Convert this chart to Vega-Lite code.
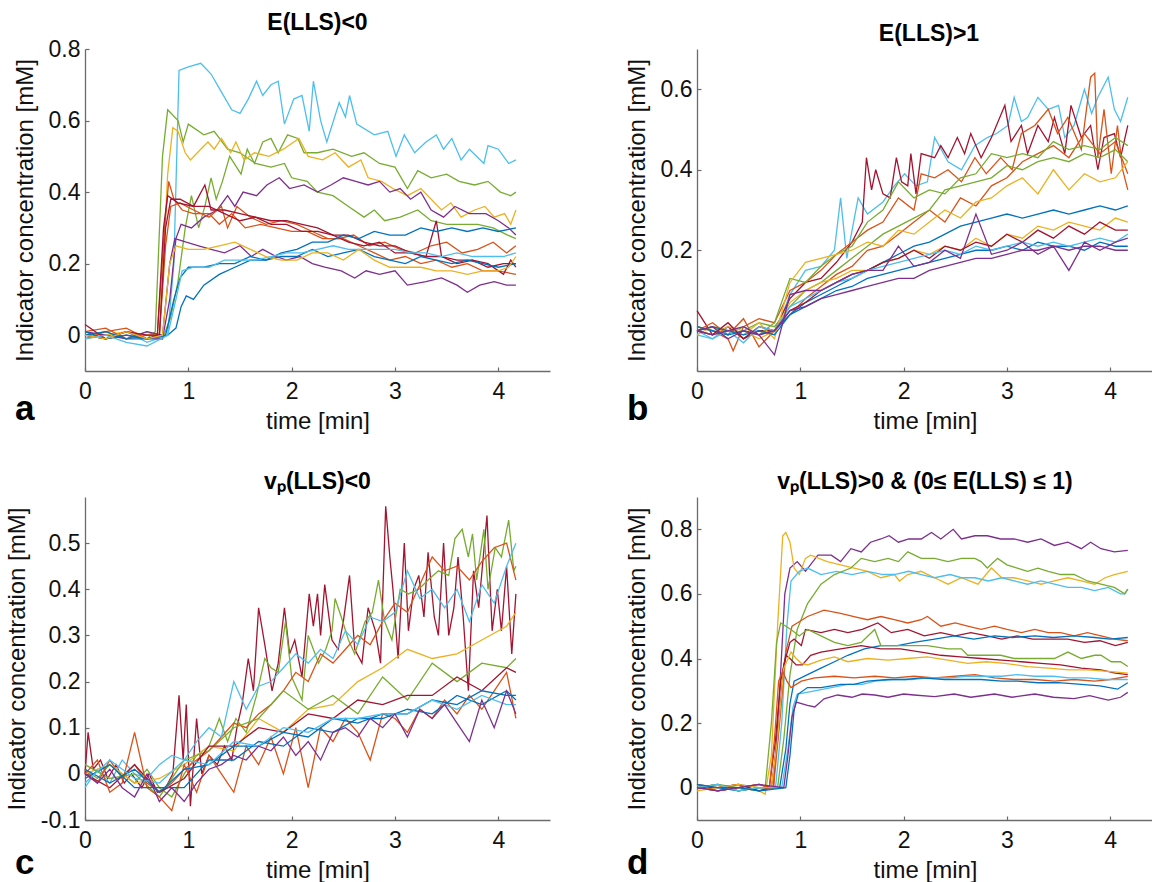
{
"$schema":"https://vega.github.io/schema/vega-lite/v6.json",
"background":"white",
"padding":{"left":5,"top":12,"right":0,"bottom":0},
"config":{
 "font":"Liberation Sans",
 "view":{"stroke":null},
 "axis":{"grid":false,"domainColor":"#6b6b6b","domainWidth":1.3,"tickColor":"#6b6b6b","tickWidth":1.2,"tickSize":-4,"labelFont":"Liberation Sans","labelFontSize":23,"labelColor":"#111111","titleFont":"Liberation Sans","titleFontSize":24,"titleFontWeight":"normal","titleColor":"#111111","labelFlush":false},
 "axisX":{"labelPadding":13,"titlePadding":6},
 "axisY":{"labelPadding":9,"titlePadding":11},
 "title":{"font":"Liberation Sans","fontSize":23,"fontWeight":"bold","color":"#000000","offset":3,"baseline":"alphabetic","frame":"group","anchor":"middle"}
},
"columns":2,
"spacing":{"row":126,"column":147},
"bounds":"flush",
"resolve":{"scale":{"color":"independent","x":"independent","y":"independent"}},
"concat":[
 {"width":465,"height":322,"title":{"text":"E(LLS)<0"},
  "encoding":{
   "x":{"field":"t","type":"quantitative","title":"time [min]","scale":{"domain":[0,4.5],"nice":false,"zero":false},"axis":{"values":[0,1,2,3,4],"format":"d"}},
   "y":{"field":"c","type":"quantitative","title":"Indicator concentration [mM]","scale":{"domain":[-0.1,0.8],"nice":false,"zero":false},"axis":{"values":[0,0.2,0.4,0.6,0.8],"labelExpr":"datum.value < 0 ? '-' + format(-datum.value, '.1~f') : format(datum.value, '.1~f')"}}
  },
  "layer":[
   {"data":{"name":"a"},"mark":{"type":"line","strokeWidth":1.3},"encoding":{"color":{"field":"s","type":"nominal","legend":null,"scale":{"domain":[1,2,3,4,5,6,7,8,9,10,11,12,13,14],"range":["#4DBEEE","#77AC30","#77AC30","#EDB120","#7E2F8E","#7E2F8E","#D95319","#D95319","#A2142F","#A2142F","#0072BD","#0072BD","#4DBEEE","#EDB120"]}}}},
   {"data":{"values":[{"t":-0.677,"c":-0.257,"lab":"a"}]},"mark":{"type":"text","align":"left","baseline":"bottom","fontSize":35,"fontWeight":"bold","color":"#000000","font":"Liberation Sans"},"encoding":{"text":{"field":"lab"}}}
  ]},
 {"width":456,"height":322,"title":{"text":"E(LLS)>1","dx":4},
  "encoding":{
   "x":{"field":"t","type":"quantitative","title":"time [min]","scale":{"domain":[0,4.414],"nice":false,"zero":false},"axis":{"values":[0,1,2,3,4],"format":"d"}},
   "y":{"field":"c","type":"quantitative","title":"Indicator concentration [mM]","scale":{"domain":[-0.1,0.7],"nice":false,"zero":false},"axis":{"values":[0,0.2,0.4,0.6],"labelExpr":"datum.value < 0 ? '-' + format(-datum.value, '.1~f') : format(datum.value, '.1~f')"}}
  },
  "layer":[
   {"data":{"name":"b"},"mark":{"type":"line","strokeWidth":1.3},"encoding":{"color":{"field":"s","type":"nominal","legend":null,"scale":{"domain":[1,2,3,4,5,6,7,8,9,10,11,12,13,14],"range":["#4DBEEE","#A2142F","#D95319","#D95319","#77AC30","#77AC30","#EDB120","#EDB120","#0072BD","#0072BD","#A2142F","#4DBEEE","#7E2F8E","#7E2F8E"]}}}},
   {"data":{"values":[{"t":-0.678,"c":-0.24,"lab":"b"}]},"mark":{"type":"text","align":"left","baseline":"bottom","fontSize":35,"fontWeight":"bold","color":"#000000","font":"Liberation Sans"},"encoding":{"text":{"field":"lab"}}}
  ]},
 {"width":465,"height":323,"title":{"text":"vₚ(LLS)<0"},
  "encoding":{
   "x":{"field":"t","type":"quantitative","title":"time [min]","scale":{"domain":[0,4.5],"nice":false,"zero":false},"axis":{"values":[0,1,2,3,4],"format":"d"}},
   "y":{"field":"c","type":"quantitative","title":"Indicator concentration [mM]","scale":{"domain":[-0.1,0.6],"nice":false,"zero":false},"axis":{"values":[-0.1,0,0.1,0.2,0.3,0.4,0.5],"labelExpr":"datum.value < 0 ? '-' + format(-datum.value, '.1~f') : format(datum.value, '.1~f')"}}
  },
  "layer":[
   {"data":{"name":"c"},"mark":{"type":"line","strokeWidth":1.3},"encoding":{"color":{"field":"s","type":"nominal","legend":null,"scale":{"domain":[1,2,3,4,5,6,7,8,9,10,11,12],"range":["#A2142F","#77AC30","#D95319","#4DBEEE","#EDB120","#77AC30","#A2142F","#D95319","#0072BD","#0072BD","#4DBEEE","#7E2F8E"]}}}},
   {"data":{"values":[{"t":-0.677,"c":-0.2317,"lab":"c"}]},"mark":{"type":"text","align":"left","baseline":"bottom","fontSize":35,"fontWeight":"bold","color":"#000000","font":"Liberation Sans"},"encoding":{"text":{"field":"lab"}}}
  ]},
 {"width":456,"height":323,"title":{"text":"vₚ(LLS)>0 & (0≤ E(LLS) ≤ 1)"},
  "encoding":{
   "x":{"field":"t","type":"quantitative","title":"time [min]","scale":{"domain":[0,4.414],"nice":false,"zero":false},"axis":{"values":[0,1,2,3,4],"format":"d"}},
   "y":{"field":"c","type":"quantitative","title":"Indicator concentration [mM]","scale":{"domain":[-0.1,0.9],"nice":false,"zero":false},"axis":{"values":[0,0.2,0.4,0.6,0.8],"labelExpr":"datum.value < 0 ? '-' + format(-datum.value, '.1~f') : format(datum.value, '.1~f')"}}
  },
  "layer":[
   {"data":{"name":"d"},"mark":{"type":"line","strokeWidth":1.3},"encoding":{"color":{"field":"s","type":"nominal","legend":null,"scale":{"domain":[1,2,3,4,5,6,7,8,9,10,11,12,13,14],"range":["#7E2F8E","#EDB120","#4DBEEE","#77AC30","#D95319","#A2142F","#0072BD","#77AC30","#A2142F","#EDB120","#D95319","#4DBEEE","#0072BD","#7E2F8E"]}}}},
   {"data":{"values":[{"t":-0.678,"c":-0.288,"lab":"d"}]},"mark":{"type":"text","align":"left","baseline":"bottom","fontSize":35,"fontWeight":"bold","color":"#000000","font":"Liberation Sans"},"encoding":{"text":{"field":"lab"}}}
  ]}
],
"datasets":{
"a":[
{"s":1,"t":0,"c":0},{"s":1,"t":0.2,"c":-0.01},{"s":1,"t":0.4,"c":0.01},{"s":1,"t":0.6,"c":-0.02},{"s":1,"t":0.8,"c":0},{"s":1,"t":0.86,"c":0.2},{"s":1,"t":0.91,"c":0.74},{"s":1,"t":1,"c":0.75},{"s":1,"t":1.12,"c":0.76},{"s":1,"t":1.22,"c":0.73},{"s":1,"t":1.3,"c":0.69},{"s":1,"t":1.42,"c":0.63},{"s":1,"t":1.5,"c":0.62},{"s":1,"t":1.58,"c":0.66},{"s":1,"t":1.66,"c":0.71},{"s":1,"t":1.72,"c":0.67},{"s":1,"t":1.8,"c":0.7},{"s":1,"t":1.87,"c":0.71},{"s":1,"t":1.93,"c":0.59},{"s":1,"t":2.02,"c":0.66},{"s":1,"t":2.1,"c":0.67},{"s":1,"t":2.17,"c":0.57},{"s":1,"t":2.21,"c":0.71},{"s":1,"t":2.28,"c":0.6},{"s":1,"t":2.34,"c":0.54},{"s":1,"t":2.46,"c":0.65},{"s":1,"t":2.52,"c":0.61},{"s":1,"t":2.56,"c":0.67},{"s":1,"t":2.63,"c":0.59},{"s":1,"t":2.8,"c":0.56},{"s":1,"t":2.93,"c":0.57},{"s":1,"t":3.01,"c":0.5},{"s":1,"t":3.09,"c":0.56},{"s":1,"t":3.19,"c":0.51},{"s":1,"t":3.3,"c":0.54},{"s":1,"t":3.4,"c":0.56},{"s":1,"t":3.47,"c":0.52},{"s":1,"t":3.55,"c":0.55},{"s":1,"t":3.64,"c":0.49},{"s":1,"t":3.72,"c":0.52},{"s":1,"t":3.86,"c":0.48},{"s":1,"t":3.9,"c":0.53},{"s":1,"t":4,"c":0.52},{"s":1,"t":4.1,"c":0.48},{"s":1,"t":4.17,"c":0.49},
{"s":2,"t":0,"c":0.01},{"s":2,"t":0.2,"c":-0.01},{"s":2,"t":0.4,"c":0.01},{"s":2,"t":0.6,"c":-0.01},{"s":2,"t":0.68,"c":0.01},{"s":2,"t":0.75,"c":0.5},{"s":2,"t":0.8,"c":0.63},{"s":2,"t":0.9,"c":0.6},{"s":2,"t":0.95,"c":0.54},{"s":2,"t":1,"c":0.59},{"s":2,"t":1.15,"c":0.56},{"s":2,"t":1.25,"c":0.57},{"s":2,"t":1.38,"c":0.52},{"s":2,"t":1.5,"c":0.51},{"s":2,"t":1.65,"c":0.48},{"s":2,"t":1.8,"c":0.47},{"s":2,"t":1.93,"c":0.48},{"s":2,"t":2,"c":0.44},{"s":2,"t":2.15,"c":0.43},{"s":2,"t":2.25,"c":0.4},{"s":2,"t":2.4,"c":0.39},{"s":2,"t":2.55,"c":0.36},{"s":2,"t":2.7,"c":0.33},{"s":2,"t":2.8,"c":0.35},{"s":2,"t":2.9,"c":0.32},{"s":2,"t":3.05,"c":0.33},{"s":2,"t":3.22,"c":0.35},{"s":2,"t":3.35,"c":0.32},{"s":2,"t":3.5,"c":0.31},{"s":2,"t":3.65,"c":0.31},{"s":2,"t":3.8,"c":0.31},{"s":2,"t":3.95,"c":0.3},{"s":2,"t":4.09,"c":0.28},{"s":2,"t":4.17,"c":0.27},
{"s":3,"t":0,"c":0},{"s":3,"t":0.2,"c":0.01},{"s":3,"t":0.4,"c":-0.01},{"s":3,"t":0.6,"c":0.01},{"s":3,"t":0.75,"c":-0.01},{"s":3,"t":0.83,"c":0.05},{"s":3,"t":0.9,"c":0.15},{"s":3,"t":0.97,"c":0.3},{"s":3,"t":1.03,"c":0.39},{"s":3,"t":1.1,"c":0.3},{"s":3,"t":1.16,"c":0.36},{"s":3,"t":1.22,"c":0.44},{"s":3,"t":1.27,"c":0.38},{"s":3,"t":1.33,"c":0.43},{"s":3,"t":1.4,"c":0.5},{"s":3,"t":1.51,"c":0.45},{"s":3,"t":1.57,"c":0.52},{"s":3,"t":1.64,"c":0.48},{"s":3,"t":1.72,"c":0.54},{"s":3,"t":1.8,"c":0.55},{"s":3,"t":1.87,"c":0.51},{"s":3,"t":1.96,"c":0.56},{"s":3,"t":2.06,"c":0.55},{"s":3,"t":2.12,"c":0.51},{"s":3,"t":2.25,"c":0.51},{"s":3,"t":2.4,"c":0.52},{"s":3,"t":2.58,"c":0.5},{"s":3,"t":2.7,"c":0.51},{"s":3,"t":2.85,"c":0.48},{"s":3,"t":3,"c":0.47},{"s":3,"t":3.12,"c":0.41},{"s":3,"t":3.22,"c":0.46},{"s":3,"t":3.35,"c":0.44},{"s":3,"t":3.5,"c":0.45},{"s":3,"t":3.62,"c":0.43},{"s":3,"t":3.77,"c":0.42},{"s":3,"t":3.9,"c":0.43},{"s":3,"t":4.02,"c":0.4},{"s":3,"t":4.12,"c":0.39},{"s":3,"t":4.17,"c":0.4},
{"s":4,"t":0,"c":-0.01},{"s":4,"t":0.2,"c":0},{"s":4,"t":0.4,"c":0.01},{"s":4,"t":0.6,"c":0},{"s":4,"t":0.72,"c":0},{"s":4,"t":0.8,"c":0.45},{"s":4,"t":0.85,"c":0.58},{"s":4,"t":0.9,"c":0.57},{"s":4,"t":0.97,"c":0.51},{"s":4,"t":1.02,"c":0.49},{"s":4,"t":1.12,"c":0.52},{"s":4,"t":1.19,"c":0.54},{"s":4,"t":1.25,"c":0.52},{"s":4,"t":1.32,"c":0.55},{"s":4,"t":1.41,"c":0.51},{"s":4,"t":1.46,"c":0.54},{"s":4,"t":1.54,"c":0.49},{"s":4,"t":1.64,"c":0.51},{"s":4,"t":1.78,"c":0.5},{"s":4,"t":1.92,"c":0.52},{"s":4,"t":2.07,"c":0.55},{"s":4,"t":2.16,"c":0.5},{"s":4,"t":2.3,"c":0.49},{"s":4,"t":2.42,"c":0.51},{"s":4,"t":2.55,"c":0.47},{"s":4,"t":2.67,"c":0.49},{"s":4,"t":2.74,"c":0.44},{"s":4,"t":2.87,"c":0.43},{"s":4,"t":2.98,"c":0.41},{"s":4,"t":3.12,"c":0.39},{"s":4,"t":3.25,"c":0.41},{"s":4,"t":3.35,"c":0.38},{"s":4,"t":3.45,"c":0.35},{"s":4,"t":3.54,"c":0.37},{"s":4,"t":3.64,"c":0.33},{"s":4,"t":3.77,"c":0.35},{"s":4,"t":3.87,"c":0.36},{"s":4,"t":3.96,"c":0.33},{"s":4,"t":4.06,"c":0.34},{"s":4,"t":4.12,"c":0.31},{"s":4,"t":4.17,"c":0.35},
{"s":5,"t":0,"c":0},{"s":5,"t":0.2,"c":-0.01},{"s":5,"t":0.4,"c":0.01},{"s":5,"t":0.6,"c":-0.01},{"s":5,"t":0.75,"c":-0.01},{"s":5,"t":0.82,"c":0.1},{"s":5,"t":0.88,"c":0.27},{"s":5,"t":0.93,"c":0.31},{"s":5,"t":1.03,"c":0.3},{"s":5,"t":1.15,"c":0.33},{"s":5,"t":1.28,"c":0.35},{"s":5,"t":1.38,"c":0.39},{"s":5,"t":1.45,"c":0.36},{"s":5,"t":1.53,"c":0.4},{"s":5,"t":1.66,"c":0.39},{"s":5,"t":1.76,"c":0.42},{"s":5,"t":1.88,"c":0.44},{"s":5,"t":1.98,"c":0.41},{"s":5,"t":2.12,"c":0.42},{"s":5,"t":2.25,"c":0.4},{"s":5,"t":2.38,"c":0.42},{"s":5,"t":2.5,"c":0.44},{"s":5,"t":2.62,"c":0.43},{"s":5,"t":2.74,"c":0.42},{"s":5,"t":2.85,"c":0.43},{"s":5,"t":2.95,"c":0.4},{"s":5,"t":3.05,"c":0.41},{"s":5,"t":3.15,"c":0.38},{"s":5,"t":3.25,"c":0.4},{"s":5,"t":3.35,"c":0.35},{"s":5,"t":3.47,"c":0.33},{"s":5,"t":3.58,"c":0.36},{"s":5,"t":3.72,"c":0.34},{"s":5,"t":3.88,"c":0.34},{"s":5,"t":4,"c":0.32},{"s":5,"t":4.1,"c":0.3},{"s":5,"t":4.17,"c":0.28},
{"s":6,"t":0,"c":0.01},{"s":6,"t":0.2,"c":0},{"s":6,"t":0.4,"c":-0.01},{"s":6,"t":0.6,"c":0.01},{"s":6,"t":0.75,"c":0},{"s":6,"t":0.82,"c":0.2},{"s":6,"t":0.87,"c":0.27},{"s":6,"t":0.98,"c":0.26},{"s":6,"t":1.1,"c":0.25},{"s":6,"t":1.22,"c":0.24},{"s":6,"t":1.35,"c":0.23},{"s":6,"t":1.5,"c":0.25},{"s":6,"t":1.61,"c":0.22},{"s":6,"t":1.72,"c":0.24},{"s":6,"t":1.85,"c":0.22},{"s":6,"t":1.95,"c":0.21},{"s":6,"t":2.08,"c":0.22},{"s":6,"t":2.2,"c":0.2},{"s":6,"t":2.32,"c":0.19},{"s":6,"t":2.48,"c":0.18},{"s":6,"t":2.61,"c":0.16},{"s":6,"t":2.72,"c":0.18},{"s":6,"t":2.85,"c":0.17},{"s":6,"t":3,"c":0.18},{"s":6,"t":3.12,"c":0.14},{"s":6,"t":3.3,"c":0.15},{"s":6,"t":3.45,"c":0.16},{"s":6,"t":3.6,"c":0.14},{"s":6,"t":3.7,"c":0.12},{"s":6,"t":3.82,"c":0.14},{"s":6,"t":3.96,"c":0.15},{"s":6,"t":4.08,"c":0.14},{"s":6,"t":4.17,"c":0.14},
{"s":7,"t":0,"c":0.01},{"s":7,"t":0.2,"c":0.02},{"s":7,"t":0.4,"c":-0.01},{"s":7,"t":0.6,"c":0},{"s":7,"t":0.7,"c":0},{"s":7,"t":0.77,"c":0.3},{"s":7,"t":0.81,"c":0.43},{"s":7,"t":0.86,"c":0.38},{"s":7,"t":0.94,"c":0.35},{"s":7,"t":1.05,"c":0.34},{"s":7,"t":1.2,"c":0.34},{"s":7,"t":1.3,"c":0.31},{"s":7,"t":1.42,"c":0.34},{"s":7,"t":1.55,"c":0.3},{"s":7,"t":1.7,"c":0.31},{"s":7,"t":1.85,"c":0.3},{"s":7,"t":2,"c":0.29},{"s":7,"t":2.15,"c":0.29},{"s":7,"t":2.3,"c":0.27},{"s":7,"t":2.45,"c":0.27},{"s":7,"t":2.6,"c":0.28},{"s":7,"t":2.75,"c":0.25},{"s":7,"t":2.9,"c":0.26},{"s":7,"t":3.05,"c":0.24},{"s":7,"t":3.2,"c":0.23},{"s":7,"t":3.35,"c":0.25},{"s":7,"t":3.5,"c":0.26},{"s":7,"t":3.65,"c":0.23},{"s":7,"t":3.8,"c":0.24},{"s":7,"t":3.95,"c":0.26},{"s":7,"t":4.08,"c":0.23},{"s":7,"t":4.17,"c":0.25},
{"s":8,"t":0,"c":-0.01},{"s":8,"t":0.2,"c":0.01},{"s":8,"t":0.4,"c":0.02},{"s":8,"t":0.6,"c":-0.01},{"s":8,"t":0.72,"c":0},{"s":8,"t":0.78,"c":0.25},{"s":8,"t":0.83,"c":0.36},{"s":8,"t":0.92,"c":0.37},{"s":8,"t":1.05,"c":0.35},{"s":8,"t":1.2,"c":0.33},{"s":8,"t":1.32,"c":0.36},{"s":8,"t":1.38,"c":0.3},{"s":8,"t":1.47,"c":0.36},{"s":8,"t":1.6,"c":0.33},{"s":8,"t":1.75,"c":0.31},{"s":8,"t":1.9,"c":0.32},{"s":8,"t":2.05,"c":0.31},{"s":8,"t":2.2,"c":0.29},{"s":8,"t":2.35,"c":0.27},{"s":8,"t":2.5,"c":0.27},{"s":8,"t":2.65,"c":0.25},{"s":8,"t":2.8,"c":0.23},{"s":8,"t":2.95,"c":0.21},{"s":8,"t":3.1,"c":0.22},{"s":8,"t":3.25,"c":0.2},{"s":8,"t":3.4,"c":0.21},{"s":8,"t":3.55,"c":0.19},{"s":8,"t":3.7,"c":0.2},{"s":8,"t":3.85,"c":0.18},{"s":8,"t":4,"c":0.18},{"s":8,"t":4.17,"c":0.17},
{"s":9,"t":0,"c":0.03},{"s":9,"t":0.2,"c":-0.01},{"s":9,"t":0.4,"c":0},{"s":9,"t":0.6,"c":-0.01},{"s":9,"t":0.7,"c":0},{"s":9,"t":0.76,"c":0.3},{"s":9,"t":0.8,"c":0.39},{"s":9,"t":0.9,"c":0.37},{"s":9,"t":1.05,"c":0.36},{"s":9,"t":1.16,"c":0.42},{"s":9,"t":1.22,"c":0.35},{"s":9,"t":1.35,"c":0.35},{"s":9,"t":1.5,"c":0.34},{"s":9,"t":1.65,"c":0.33},{"s":9,"t":1.8,"c":0.32},{"s":9,"t":1.95,"c":0.32},{"s":9,"t":2.1,"c":0.31},{"s":9,"t":2.25,"c":0.3},{"s":9,"t":2.4,"c":0.28},{"s":9,"t":2.55,"c":0.28},{"s":9,"t":2.7,"c":0.26},{"s":9,"t":2.85,"c":0.25},{"s":9,"t":3,"c":0.25},{"s":9,"t":3.15,"c":0.23},{"s":9,"t":3.3,"c":0.22},{"s":9,"t":3.4,"c":0.32},{"s":9,"t":3.45,"c":0.22},{"s":9,"t":3.6,"c":0.21},{"s":9,"t":3.75,"c":0.21},{"s":9,"t":3.9,"c":0.2},{"s":9,"t":4.05,"c":0.17},{"s":9,"t":4.12,"c":0.21},{"s":9,"t":4.17,"c":0.19},
{"s":10,"t":0,"c":0},{"s":10,"t":0.2,"c":-0.01},{"s":10,"t":0.4,"c":0.01},{"s":10,"t":0.6,"c":0},{"s":10,"t":0.72,"c":0},{"s":10,"t":0.78,"c":0.3},{"s":10,"t":0.83,"c":0.38},{"s":10,"t":0.92,"c":0.38},{"s":10,"t":1.05,"c":0.36},{"s":10,"t":1.2,"c":0.36},{"s":10,"t":1.35,"c":0.34},{"s":10,"t":1.5,"c":0.32},{"s":10,"t":1.65,"c":0.33},{"s":10,"t":1.8,"c":0.31},{"s":10,"t":1.95,"c":0.31},{"s":10,"t":2.1,"c":0.29},{"s":10,"t":2.25,"c":0.29},{"s":10,"t":2.4,"c":0.28},{"s":10,"t":2.55,"c":0.26},{"s":10,"t":2.7,"c":0.25},{"s":10,"t":2.85,"c":0.26},{"s":10,"t":3,"c":0.23},{"s":10,"t":3.15,"c":0.23},{"s":10,"t":3.3,"c":0.22},{"s":10,"t":3.45,"c":0.22},{"s":10,"t":3.6,"c":0.2},{"s":10,"t":3.75,"c":0.21},{"s":10,"t":3.9,"c":0.19},{"s":10,"t":4.05,"c":0.2},{"s":10,"t":4.17,"c":0.2},
{"s":11,"t":0,"c":0},{"s":11,"t":0.2,"c":0.01},{"s":11,"t":0.4,"c":-0.01},{"s":11,"t":0.6,"c":-0.01},{"s":11,"t":0.8,"c":0},{"s":11,"t":0.88,"c":0.02},{"s":11,"t":0.93,"c":0.08},{"s":11,"t":0.98,"c":0.11},{"s":11,"t":1.05,"c":0.1},{"s":11,"t":1.15,"c":0.14},{"s":11,"t":1.3,"c":0.17},{"s":11,"t":1.45,"c":0.19},{"s":11,"t":1.6,"c":0.21},{"s":11,"t":1.75,"c":0.21},{"s":11,"t":1.9,"c":0.22},{"s":11,"t":2.05,"c":0.22},{"s":11,"t":2.2,"c":0.24},{"s":11,"t":2.35,"c":0.22},{"s":11,"t":2.5,"c":0.23},{"s":11,"t":2.65,"c":0.24},{"s":11,"t":2.8,"c":0.22},{"s":11,"t":2.95,"c":0.21},{"s":11,"t":3.1,"c":0.2},{"s":11,"t":3.25,"c":0.22},{"s":11,"t":3.4,"c":0.21},{"s":11,"t":3.55,"c":0.2},{"s":11,"t":3.7,"c":0.21},{"s":11,"t":3.85,"c":0.2},{"s":11,"t":4,"c":0.19},{"s":11,"t":4.17,"c":0.2},
{"s":12,"t":0,"c":0.01},{"s":12,"t":0.2,"c":-0.01},{"s":12,"t":0.4,"c":0},{"s":12,"t":0.6,"c":-0.01},{"s":12,"t":0.78,"c":0},{"s":12,"t":0.86,"c":0.1},{"s":12,"t":0.92,"c":0.16},{"s":12,"t":1,"c":0.19},{"s":12,"t":1.15,"c":0.19},{"s":12,"t":1.3,"c":0.2},{"s":12,"t":1.45,"c":0.2},{"s":12,"t":1.6,"c":0.22},{"s":12,"t":1.75,"c":0.21},{"s":12,"t":1.9,"c":0.23},{"s":12,"t":2.05,"c":0.24},{"s":12,"t":2.2,"c":0.26},{"s":12,"t":2.35,"c":0.26},{"s":12,"t":2.5,"c":0.28},{"s":12,"t":2.65,"c":0.27},{"s":12,"t":2.8,"c":0.29},{"s":12,"t":2.95,"c":0.28},{"s":12,"t":3.1,"c":0.28},{"s":12,"t":3.25,"c":0.3},{"s":12,"t":3.4,"c":0.29},{"s":12,"t":3.55,"c":0.3},{"s":12,"t":3.7,"c":0.29},{"s":12,"t":3.85,"c":0.3},{"s":12,"t":4,"c":0.29},{"s":12,"t":4.17,"c":0.3},
{"s":13,"t":0,"c":-0.01},{"s":13,"t":0.2,"c":0},{"s":13,"t":0.4,"c":-0.02},{"s":13,"t":0.6,"c":-0.03},{"s":13,"t":0.8,"c":0},{"s":13,"t":0.88,"c":0.1},{"s":13,"t":0.94,"c":0.18},{"s":13,"t":1.05,"c":0.19},{"s":13,"t":1.2,"c":0.19},{"s":13,"t":1.35,"c":0.21},{"s":13,"t":1.5,"c":0.21},{"s":13,"t":1.65,"c":0.21},{"s":13,"t":1.8,"c":0.22},{"s":13,"t":1.95,"c":0.23},{"s":13,"t":2.1,"c":0.23},{"s":13,"t":2.25,"c":0.24},{"s":13,"t":2.4,"c":0.25},{"s":13,"t":2.55,"c":0.24},{"s":13,"t":2.7,"c":0.24},{"s":13,"t":2.85,"c":0.24},{"s":13,"t":3,"c":0.24},{"s":13,"t":3.15,"c":0.23},{"s":13,"t":3.3,"c":0.23},{"s":13,"t":3.45,"c":0.22},{"s":13,"t":3.6,"c":0.23},{"s":13,"t":3.75,"c":0.22},{"s":13,"t":3.9,"c":0.22},{"s":13,"t":4.05,"c":0.22},{"s":13,"t":4.17,"c":0.23},
{"s":14,"t":0,"c":0},{"s":14,"t":0.2,"c":-0.01},{"s":14,"t":0.4,"c":0.01},{"s":14,"t":0.6,"c":-0.01},{"s":14,"t":0.75,"c":0},{"s":14,"t":0.82,"c":0.2},{"s":14,"t":0.88,"c":0.25},{"s":14,"t":1,"c":0.24},{"s":14,"t":1.15,"c":0.24},{"s":14,"t":1.3,"c":0.25},{"s":14,"t":1.45,"c":0.26},{"s":14,"t":1.6,"c":0.24},{"s":14,"t":1.75,"c":0.22},{"s":14,"t":1.9,"c":0.21},{"s":14,"t":2.05,"c":0.21},{"s":14,"t":2.2,"c":0.23},{"s":14,"t":2.35,"c":0.23},{"s":14,"t":2.5,"c":0.21},{"s":14,"t":2.65,"c":0.24},{"s":14,"t":2.8,"c":0.21},{"s":14,"t":2.95,"c":0.19},{"s":14,"t":3.1,"c":0.19},{"s":14,"t":3.25,"c":0.19},{"s":14,"t":3.4,"c":0.18},{"s":14,"t":3.55,"c":0.18},{"s":14,"t":3.7,"c":0.17},{"s":14,"t":3.85,"c":0.18},{"s":14,"t":4,"c":0.18},{"s":14,"t":4.1,"c":0.19},{"s":14,"t":4.17,"c":0.22}
],
"b":[
{"s":1,"t":0,"c":0},{"s":1,"t":0.15,"c":-0.02},{"s":1,"t":0.3,"c":0.01},{"s":1,"t":0.45,"c":-0.02},{"s":1,"t":0.6,"c":0},{"s":1,"t":0.75,"c":-0.01},{"s":1,"t":0.9,"c":0.09},{"s":1,"t":1.05,"c":0.15},{"s":1,"t":1.2,"c":0.16},{"s":1,"t":1.33,"c":0.2},{"s":1,"t":1.39,"c":0.33},{"s":1,"t":1.45,"c":0.18},{"s":1,"t":1.56,"c":0.33},{"s":1,"t":1.65,"c":0.29},{"s":1,"t":1.8,"c":0.32},{"s":1,"t":1.91,"c":0.36},{"s":1,"t":2.01,"c":0.39},{"s":1,"t":2.12,"c":0.36},{"s":1,"t":2.23,"c":0.37},{"s":1,"t":2.3,"c":0.48},{"s":1,"t":2.43,"c":0.42},{"s":1,"t":2.56,"c":0.4},{"s":1,"t":2.69,"c":0.46},{"s":1,"t":2.81,"c":0.48},{"s":1,"t":2.9,"c":0.49},{"s":1,"t":3.01,"c":0.51},{"s":1,"t":3.07,"c":0.58},{"s":1,"t":3.14,"c":0.52},{"s":1,"t":3.2,"c":0.53},{"s":1,"t":3.3,"c":0.58},{"s":1,"t":3.4,"c":0.55},{"s":1,"t":3.5,"c":0.56},{"s":1,"t":3.56,"c":0.48},{"s":1,"t":3.65,"c":0.51},{"s":1,"t":3.75,"c":0.6},{"s":1,"t":3.82,"c":0.54},{"s":1,"t":3.88,"c":0.58},{"s":1,"t":3.98,"c":0.63},{"s":1,"t":4.04,"c":0.55},{"s":1,"t":4.1,"c":0.52},{"s":1,"t":4.17,"c":0.58},
{"s":2,"t":0,"c":0.05},{"s":2,"t":0.15,"c":-0.01},{"s":2,"t":0.3,"c":0.01},{"s":2,"t":0.45,"c":-0.02},{"s":2,"t":0.6,"c":0},{"s":2,"t":0.75,"c":0},{"s":2,"t":0.9,"c":0.08},{"s":2,"t":1.05,"c":0.12},{"s":2,"t":1.2,"c":0.13},{"s":2,"t":1.35,"c":0.17},{"s":2,"t":1.5,"c":0.22},{"s":2,"t":1.6,"c":0.27},{"s":2,"t":1.64,"c":0.43},{"s":2,"t":1.69,"c":0.35},{"s":2,"t":1.73,"c":0.4},{"s":2,"t":1.8,"c":0.34},{"s":2,"t":1.87,"c":0.33},{"s":2,"t":1.93,"c":0.43},{"s":2,"t":1.98,"c":0.37},{"s":2,"t":2.04,"c":0.36},{"s":2,"t":2.07,"c":0.44},{"s":2,"t":2.12,"c":0.34},{"s":2,"t":2.17,"c":0.44},{"s":2,"t":2.3,"c":0.43},{"s":2,"t":2.36,"c":0.46},{"s":2,"t":2.43,"c":0.43},{"s":2,"t":2.52,"c":0.48},{"s":2,"t":2.59,"c":0.44},{"s":2,"t":2.65,"c":0.49},{"s":2,"t":2.75,"c":0.43},{"s":2,"t":2.85,"c":0.48},{"s":2,"t":2.98,"c":0.56},{"s":2,"t":3.04,"c":0.47},{"s":2,"t":3.14,"c":0.51},{"s":2,"t":3.2,"c":0.44},{"s":2,"t":3.3,"c":0.51},{"s":2,"t":3.4,"c":0.47},{"s":2,"t":3.46,"c":0.53},{"s":2,"t":3.56,"c":0.44},{"s":2,"t":3.62,"c":0.56},{"s":2,"t":3.72,"c":0.48},{"s":2,"t":3.81,"c":0.51},{"s":2,"t":3.88,"c":0.4},{"s":2,"t":3.94,"c":0.48},{"s":2,"t":4.04,"c":0.49},{"s":2,"t":4.1,"c":0.43},{"s":2,"t":4.17,"c":0.51},
{"s":3,"t":0,"c":0.01},{"s":3,"t":0.15,"c":0},{"s":3,"t":0.3,"c":-0.02},{"s":3,"t":0.35,"c":-0.05},{"s":3,"t":0.45,"c":0.01},{"s":3,"t":0.6,"c":0.03},{"s":3,"t":0.75,"c":0.02},{"s":3,"t":0.9,"c":0.1},{"s":3,"t":1.05,"c":0.12},{"s":3,"t":1.2,"c":0.15},{"s":3,"t":1.35,"c":0.19},{"s":3,"t":1.5,"c":0.22},{"s":3,"t":1.65,"c":0.25},{"s":3,"t":1.8,"c":0.27},{"s":3,"t":1.95,"c":0.33},{"s":3,"t":2.1,"c":0.3},{"s":3,"t":2.17,"c":0.39},{"s":3,"t":2.3,"c":0.38},{"s":3,"t":2.43,"c":0.4},{"s":3,"t":2.56,"c":0.37},{"s":3,"t":2.69,"c":0.43},{"s":3,"t":2.8,"c":0.39},{"s":3,"t":2.94,"c":0.43},{"s":3,"t":3.05,"c":0.4},{"s":3,"t":3.14,"c":0.49},{"s":3,"t":3.27,"c":0.51},{"s":3,"t":3.4,"c":0.55},{"s":3,"t":3.49,"c":0.49},{"s":3,"t":3.59,"c":0.53},{"s":3,"t":3.72,"c":0.45},{"s":3,"t":3.81,"c":0.63},{"s":3,"t":3.85,"c":0.64},{"s":3,"t":3.88,"c":0.43},{"s":3,"t":3.94,"c":0.55},{"s":3,"t":4.01,"c":0.39},{"s":3,"t":4.07,"c":0.51},{"s":3,"t":4.12,"c":0.4},{"s":3,"t":4.17,"c":0.35},
{"s":4,"t":0,"c":0},{"s":4,"t":0.15,"c":0.02},{"s":4,"t":0.3,"c":-0.01},{"s":4,"t":0.45,"c":0.03},{"s":4,"t":0.6,"c":-0.04},{"s":4,"t":0.75,"c":0},{"s":4,"t":0.9,"c":0.04},{"s":4,"t":1.05,"c":0.08},{"s":4,"t":1.2,"c":0.11},{"s":4,"t":1.35,"c":0.14},{"s":4,"t":1.5,"c":0.16},{"s":4,"t":1.65,"c":0.2},{"s":4,"t":1.8,"c":0.21},{"s":4,"t":1.95,"c":0.24},{"s":4,"t":2.1,"c":0.27},{"s":4,"t":2.25,"c":0.3},{"s":4,"t":2.4,"c":0.27},{"s":4,"t":2.55,"c":0.33},{"s":4,"t":2.7,"c":0.31},{"s":4,"t":2.85,"c":0.36},{"s":4,"t":3,"c":0.38},{"s":4,"t":3.15,"c":0.42},{"s":4,"t":3.3,"c":0.44},{"s":4,"t":3.45,"c":0.46},{"s":4,"t":3.6,"c":0.43},{"s":4,"t":3.75,"c":0.49},{"s":4,"t":3.9,"c":0.44},{"s":4,"t":4.05,"c":0.47},{"s":4,"t":4.17,"c":0.39},
{"s":5,"t":0,"c":0.01},{"s":5,"t":0.15,"c":0},{"s":5,"t":0.3,"c":-0.01},{"s":5,"t":0.45,"c":0.01},{"s":5,"t":0.6,"c":-0.01},{"s":5,"t":0.75,"c":0.02},{"s":5,"t":0.9,"c":0.13},{"s":5,"t":1.05,"c":0.12},{"s":5,"t":1.2,"c":0.16},{"s":5,"t":1.35,"c":0.19},{"s":5,"t":1.5,"c":0.21},{"s":5,"t":1.65,"c":0.27},{"s":5,"t":1.8,"c":0.3},{"s":5,"t":1.95,"c":0.37},{"s":5,"t":2.1,"c":0.33},{"s":5,"t":2.25,"c":0.35},{"s":5,"t":2.4,"c":0.34},{"s":5,"t":2.55,"c":0.38},{"s":5,"t":2.7,"c":0.39},{"s":5,"t":2.85,"c":0.44},{"s":5,"t":3,"c":0.43},{"s":5,"t":3.15,"c":0.44},{"s":5,"t":3.3,"c":0.43},{"s":5,"t":3.45,"c":0.47},{"s":5,"t":3.6,"c":0.45},{"s":5,"t":3.75,"c":0.46},{"s":5,"t":3.9,"c":0.45},{"s":5,"t":4.05,"c":0.48},{"s":5,"t":4.17,"c":0.46},
{"s":6,"t":0,"c":0},{"s":6,"t":0.15,"c":0.01},{"s":6,"t":0.3,"c":-0.01},{"s":6,"t":0.45,"c":0},{"s":6,"t":0.6,"c":0.02},{"s":6,"t":0.75,"c":0.01},{"s":6,"t":0.9,"c":0.06},{"s":6,"t":1.05,"c":0.1},{"s":6,"t":1.2,"c":0.12},{"s":6,"t":1.35,"c":0.15},{"s":6,"t":1.5,"c":0.18},{"s":6,"t":1.65,"c":0.21},{"s":6,"t":1.8,"c":0.24},{"s":6,"t":1.95,"c":0.26},{"s":6,"t":2.1,"c":0.28},{"s":6,"t":2.25,"c":0.3},{"s":6,"t":2.4,"c":0.35},{"s":6,"t":2.55,"c":0.36},{"s":6,"t":2.7,"c":0.37},{"s":6,"t":2.85,"c":0.38},{"s":6,"t":3,"c":0.41},{"s":6,"t":3.15,"c":0.4},{"s":6,"t":3.3,"c":0.42},{"s":6,"t":3.45,"c":0.43},{"s":6,"t":3.6,"c":0.42},{"s":6,"t":3.75,"c":0.44},{"s":6,"t":3.9,"c":0.43},{"s":6,"t":4.05,"c":0.45},{"s":6,"t":4.17,"c":0.42},
{"s":7,"t":0,"c":-0.01},{"s":7,"t":0.15,"c":0.01},{"s":7,"t":0.3,"c":0},{"s":7,"t":0.45,"c":-0.01},{"s":7,"t":0.6,"c":0.02},{"s":7,"t":0.75,"c":-0.02},{"s":7,"t":0.9,"c":0.12},{"s":7,"t":1.05,"c":0.17},{"s":7,"t":1.2,"c":0.18},{"s":7,"t":1.35,"c":0.19},{"s":7,"t":1.5,"c":0.2},{"s":7,"t":1.65,"c":0.22},{"s":7,"t":1.8,"c":0.21},{"s":7,"t":1.95,"c":0.25},{"s":7,"t":2.1,"c":0.24},{"s":7,"t":2.25,"c":0.27},{"s":7,"t":2.4,"c":0.3},{"s":7,"t":2.55,"c":0.28},{"s":7,"t":2.7,"c":0.32},{"s":7,"t":2.85,"c":0.33},{"s":7,"t":3,"c":0.36},{"s":7,"t":3.15,"c":0.38},{"s":7,"t":3.3,"c":0.34},{"s":7,"t":3.45,"c":0.4},{"s":7,"t":3.6,"c":0.35},{"s":7,"t":3.75,"c":0.39},{"s":7,"t":3.9,"c":0.37},{"s":7,"t":4.05,"c":0.38},{"s":7,"t":4.17,"c":0.42},
{"s":8,"t":0,"c":0},{"s":8,"t":0.15,"c":-0.01},{"s":8,"t":0.3,"c":0.01},{"s":8,"t":0.45,"c":0},{"s":8,"t":0.6,"c":-0.02},{"s":8,"t":0.75,"c":0},{"s":8,"t":0.9,"c":0.07},{"s":8,"t":1.05,"c":0.1},{"s":8,"t":1.2,"c":0.12},{"s":8,"t":1.35,"c":0.13},{"s":8,"t":1.5,"c":0.15},{"s":8,"t":1.65,"c":0.15},{"s":8,"t":1.8,"c":0.17},{"s":8,"t":1.95,"c":0.18},{"s":8,"t":2.1,"c":0.2},{"s":8,"t":2.25,"c":0.19},{"s":8,"t":2.4,"c":0.21},{"s":8,"t":2.55,"c":0.2},{"s":8,"t":2.7,"c":0.23},{"s":8,"t":2.85,"c":0.21},{"s":8,"t":3,"c":0.24},{"s":8,"t":3.15,"c":0.23},{"s":8,"t":3.3,"c":0.26},{"s":8,"t":3.45,"c":0.25},{"s":8,"t":3.6,"c":0.27},{"s":8,"t":3.75,"c":0.26},{"s":8,"t":3.9,"c":0.25},{"s":8,"t":4.05,"c":0.28},{"s":8,"t":4.17,"c":0.27},
{"s":9,"t":0,"c":0.01},{"s":9,"t":0.15,"c":0},{"s":9,"t":0.3,"c":-0.01},{"s":9,"t":0.45,"c":0},{"s":9,"t":0.6,"c":-0.01},{"s":9,"t":0.75,"c":0},{"s":9,"t":0.9,"c":0.04},{"s":9,"t":1.05,"c":0.07},{"s":9,"t":1.2,"c":0.09},{"s":9,"t":1.35,"c":0.11},{"s":9,"t":1.5,"c":0.13},{"s":9,"t":1.65,"c":0.15},{"s":9,"t":1.8,"c":0.17},{"s":9,"t":1.95,"c":0.19},{"s":9,"t":2.1,"c":0.21},{"s":9,"t":2.25,"c":0.22},{"s":9,"t":2.4,"c":0.24},{"s":9,"t":2.55,"c":0.26},{"s":9,"t":2.7,"c":0.27},{"s":9,"t":2.85,"c":0.28},{"s":9,"t":3,"c":0.29},{"s":9,"t":3.15,"c":0.28},{"s":9,"t":3.3,"c":0.29},{"s":9,"t":3.45,"c":0.3},{"s":9,"t":3.6,"c":0.29},{"s":9,"t":3.75,"c":0.3},{"s":9,"t":3.9,"c":0.31},{"s":9,"t":4.05,"c":0.3},{"s":9,"t":4.17,"c":0.31},
{"s":10,"t":0,"c":0},{"s":10,"t":0.15,"c":0.01},{"s":10,"t":0.3,"c":0},{"s":10,"t":0.45,"c":-0.01},{"s":10,"t":0.6,"c":0},{"s":10,"t":0.75,"c":-0.01},{"s":10,"t":0.9,"c":0.04},{"s":10,"t":1.05,"c":0.06},{"s":10,"t":1.2,"c":0.08},{"s":10,"t":1.35,"c":0.1},{"s":10,"t":1.5,"c":0.11},{"s":10,"t":1.65,"c":0.13},{"s":10,"t":1.8,"c":0.14},{"s":10,"t":1.95,"c":0.15},{"s":10,"t":2.1,"c":0.16},{"s":10,"t":2.25,"c":0.17},{"s":10,"t":2.4,"c":0.18},{"s":10,"t":2.55,"c":0.19},{"s":10,"t":2.7,"c":0.2},{"s":10,"t":2.85,"c":0.2},{"s":10,"t":3,"c":0.21},{"s":10,"t":3.15,"c":0.2},{"s":10,"t":3.3,"c":0.22},{"s":10,"t":3.45,"c":0.21},{"s":10,"t":3.6,"c":0.21},{"s":10,"t":3.75,"c":0.2},{"s":10,"t":3.9,"c":0.22},{"s":10,"t":4.05,"c":0.21},{"s":10,"t":4.17,"c":0.21},
{"s":11,"t":0,"c":0},{"s":11,"t":0.15,"c":-0.01},{"s":11,"t":0.3,"c":0.02},{"s":11,"t":0.45,"c":-0.02},{"s":11,"t":0.6,"c":0.01},{"s":11,"t":0.75,"c":0},{"s":11,"t":0.9,"c":0.05},{"s":11,"t":1.05,"c":0.07},{"s":11,"t":1.2,"c":0.1},{"s":11,"t":1.35,"c":0.12},{"s":11,"t":1.5,"c":0.14},{"s":11,"t":1.65,"c":0.15},{"s":11,"t":1.8,"c":0.17},{"s":11,"t":1.95,"c":0.18},{"s":11,"t":2.1,"c":0.2},{"s":11,"t":2.25,"c":0.18},{"s":11,"t":2.4,"c":0.21},{"s":11,"t":2.55,"c":0.2},{"s":11,"t":2.7,"c":0.22},{"s":11,"t":2.85,"c":0.21},{"s":11,"t":3,"c":0.24},{"s":11,"t":3.15,"c":0.22},{"s":11,"t":3.3,"c":0.25},{"s":11,"t":3.45,"c":0.23},{"s":11,"t":3.6,"c":0.26},{"s":11,"t":3.75,"c":0.24},{"s":11,"t":3.9,"c":0.27},{"s":11,"t":4.05,"c":0.25},{"s":11,"t":4.17,"c":0.25},
{"s":12,"t":0,"c":-0.01},{"s":12,"t":0.15,"c":-0.02},{"s":12,"t":0.3,"c":0},{"s":12,"t":0.45,"c":-0.03},{"s":12,"t":0.6,"c":0.01},{"s":12,"t":0.75,"c":0},{"s":12,"t":0.9,"c":0.06},{"s":12,"t":1.05,"c":0.08},{"s":12,"t":1.2,"c":0.1},{"s":12,"t":1.35,"c":0.12},{"s":12,"t":1.5,"c":0.13},{"s":12,"t":1.65,"c":0.15},{"s":12,"t":1.8,"c":0.16},{"s":12,"t":1.95,"c":0.17},{"s":12,"t":2.1,"c":0.18},{"s":12,"t":2.25,"c":0.19},{"s":12,"t":2.4,"c":0.2},{"s":12,"t":2.55,"c":0.19},{"s":12,"t":2.7,"c":0.21},{"s":12,"t":2.85,"c":0.2},{"s":12,"t":3,"c":0.21},{"s":12,"t":3.15,"c":0.22},{"s":12,"t":3.3,"c":0.21},{"s":12,"t":3.45,"c":0.22},{"s":12,"t":3.6,"c":0.21},{"s":12,"t":3.75,"c":0.22},{"s":12,"t":3.9,"c":0.23},{"s":12,"t":4.05,"c":0.22},{"s":12,"t":4.17,"c":0.24},
{"s":13,"t":0,"c":0},{"s":13,"t":0.15,"c":0.01},{"s":13,"t":0.3,"c":-0.02},{"s":13,"t":0.45,"c":0},{"s":13,"t":0.6,"c":-0.01},{"s":13,"t":0.75,"c":-0.06},{"s":13,"t":0.9,"c":0.09},{"s":13,"t":1.05,"c":0.1},{"s":13,"t":1.2,"c":0.1},{"s":13,"t":1.35,"c":0.12},{"s":13,"t":1.5,"c":0.14},{"s":13,"t":1.65,"c":0.15},{"s":13,"t":1.8,"c":0.15},{"s":13,"t":1.95,"c":0.21},{"s":13,"t":2.1,"c":0.16},{"s":13,"t":2.25,"c":0.17},{"s":13,"t":2.4,"c":0.2},{"s":13,"t":2.55,"c":0.18},{"s":13,"t":2.7,"c":0.29},{"s":13,"t":2.85,"c":0.19},{"s":13,"t":3,"c":0.2},{"s":13,"t":3.15,"c":0.22},{"s":13,"t":3.3,"c":0.19},{"s":13,"t":3.45,"c":0.21},{"s":13,"t":3.6,"c":0.15},{"s":13,"t":3.75,"c":0.22},{"s":13,"t":3.9,"c":0.2},{"s":13,"t":4.05,"c":0.22},{"s":13,"t":4.17,"c":0.23},
{"s":14,"t":0,"c":0},{"s":14,"t":0.15,"c":-0.01},{"s":14,"t":0.3,"c":0},{"s":14,"t":0.45,"c":0.01},{"s":14,"t":0.6,"c":-0.01},{"s":14,"t":0.75,"c":0},{"s":14,"t":0.9,"c":0.05},{"s":14,"t":1.05,"c":0.06},{"s":14,"t":1.2,"c":0.08},{"s":14,"t":1.35,"c":0.09},{"s":14,"t":1.5,"c":0.1},{"s":14,"t":1.65,"c":0.11},{"s":14,"t":1.8,"c":0.12},{"s":14,"t":1.95,"c":0.13},{"s":14,"t":2.1,"c":0.13},{"s":14,"t":2.25,"c":0.15},{"s":14,"t":2.4,"c":0.16},{"s":14,"t":2.55,"c":0.17},{"s":14,"t":2.7,"c":0.18},{"s":14,"t":2.85,"c":0.18},{"s":14,"t":3,"c":0.19},{"s":14,"t":3.15,"c":0.2},{"s":14,"t":3.3,"c":0.2},{"s":14,"t":3.45,"c":0.21},{"s":14,"t":3.6,"c":0.2},{"s":14,"t":3.75,"c":0.21},{"s":14,"t":3.9,"c":0.21},{"s":14,"t":4.05,"c":0.2},{"s":14,"t":4.17,"c":0.2}
],
"c":[
{"s":1,"t":0,"c":0},{"s":1,"t":0.03,"c":0.09},{"s":1,"t":0.08,"c":0.01},{"s":1,"t":0.15,"c":0.03},{"s":1,"t":0.22,"c":-0.01},{"s":1,"t":0.3,"c":0.02},{"s":1,"t":0.38,"c":-0.02},{"s":1,"t":0.45,"c":0},{"s":1,"t":0.55,"c":-0.03},{"s":1,"t":0.62,"c":0},{"s":1,"t":0.7,"c":-0.04},{"s":1,"t":0.78,"c":-0.03},{"s":1,"t":0.85,"c":0},{"s":1,"t":0.91,"c":0.17},{"s":1,"t":0.95,"c":0.03},{"s":1,"t":0.98,"c":0.15},{"s":1,"t":1.02,"c":-0.07},{"s":1,"t":1.08,"c":0.12},{"s":1,"t":1.13,"c":0},{"s":1,"t":1.2,"c":0.04},{"s":1,"t":1.28,"c":0.02},{"s":1,"t":1.35,"c":0.06},{"s":1,"t":1.42,"c":0.03},{"s":1,"t":1.47,"c":0.1},{"s":1,"t":1.52,"c":0.15},{"s":1,"t":1.58,"c":0.25},{"s":1,"t":1.63,"c":0.18},{"s":1,"t":1.68,"c":0.36},{"s":1,"t":1.74,"c":0.28},{"s":1,"t":1.81,"c":0.18},{"s":1,"t":1.87,"c":0.24},{"s":1,"t":1.93,"c":0.36},{"s":1,"t":1.98,"c":0.26},{"s":1,"t":2.03,"c":0.29},{"s":1,"t":2.1,"c":0.21},{"s":1,"t":2.17,"c":0.39},{"s":1,"t":2.21,"c":0.32},{"s":1,"t":2.25,"c":0.39},{"s":1,"t":2.28,"c":0.3},{"s":1,"t":2.32,"c":0.41},{"s":1,"t":2.39,"c":0.29},{"s":1,"t":2.45,"c":0.27},{"s":1,"t":2.5,"c":0.33},{"s":1,"t":2.56,"c":0.43},{"s":1,"t":2.61,"c":0.27},{"s":1,"t":2.68,"c":0.24},{"s":1,"t":2.74,"c":0.36},{"s":1,"t":2.81,"c":0.31},{"s":1,"t":2.86,"c":0.24},{"s":1,"t":2.91,"c":0.58},{"s":1,"t":2.95,"c":0.47},{"s":1,"t":2.98,"c":0.4},{"s":1,"t":3.03,"c":0.25},{"s":1,"t":3.09,"c":0.5},{"s":1,"t":3.13,"c":0.31},{"s":1,"t":3.18,"c":0.4},{"s":1,"t":3.23,"c":0.43},{"s":1,"t":3.28,"c":0.34},{"s":1,"t":3.32,"c":0.48},{"s":1,"t":3.38,"c":0.34},{"s":1,"t":3.42,"c":0.3},{"s":1,"t":3.47,"c":0.5},{"s":1,"t":3.52,"c":0.3},{"s":1,"t":3.57,"c":0.36},{"s":1,"t":3.61,"c":0.47},{"s":1,"t":3.66,"c":0.34},{"s":1,"t":3.71,"c":0.18},{"s":1,"t":3.76,"c":0.44},{"s":1,"t":3.81,"c":0.36},{"s":1,"t":3.89,"c":0.56},{"s":1,"t":3.94,"c":0.31},{"s":1,"t":3.99,"c":0.4},{"s":1,"t":4.03,"c":0.31},{"s":1,"t":4.08,"c":0.45},{"s":1,"t":4.13,"c":0.26},{"s":1,"t":4.17,"c":0.39},
{"s":2,"t":0,"c":0.01},{"s":2,"t":0.12,"c":-0.01},{"s":2,"t":0.24,"c":0.02},{"s":2,"t":0.36,"c":0},{"s":2,"t":0.48,"c":-0.02},{"s":2,"t":0.6,"c":0.01},{"s":2,"t":0.72,"c":-0.03},{"s":2,"t":0.84,"c":-0.05},{"s":2,"t":0.96,"c":0},{"s":2,"t":1.08,"c":0.04},{"s":2,"t":1.2,"c":0.06},{"s":2,"t":1.3,"c":0.12},{"s":2,"t":1.38,"c":0.07},{"s":2,"t":1.46,"c":0.12},{"s":2,"t":1.56,"c":0.09},{"s":2,"t":1.66,"c":0.17},{"s":2,"t":1.74,"c":0.25},{"s":2,"t":1.8,"c":0.23},{"s":2,"t":1.87,"c":0.22},{"s":2,"t":1.94,"c":0.33},{"s":2,"t":2,"c":0.21},{"s":2,"t":2.1,"c":0.16},{"s":2,"t":2.16,"c":0.3},{"s":2,"t":2.26,"c":0.24},{"s":2,"t":2.33,"c":0.27},{"s":2,"t":2.39,"c":0.31},{"s":2,"t":2.42,"c":0.38},{"s":2,"t":2.48,"c":0.34},{"s":2,"t":2.55,"c":0.29},{"s":2,"t":2.61,"c":0.26},{"s":2,"t":2.71,"c":0.33},{"s":2,"t":2.78,"c":0.35},{"s":2,"t":2.84,"c":0.42},{"s":2,"t":2.9,"c":0.33},{"s":2,"t":2.97,"c":0.29},{"s":2,"t":3.05,"c":0.4},{"s":2,"t":3.13,"c":0.39},{"s":2,"t":3.23,"c":0.4},{"s":2,"t":3.32,"c":0.42},{"s":2,"t":3.42,"c":0.44},{"s":2,"t":3.52,"c":0.43},{"s":2,"t":3.58,"c":0.51},{"s":2,"t":3.65,"c":0.53},{"s":2,"t":3.71,"c":0.47},{"s":2,"t":3.75,"c":0.52},{"s":2,"t":3.79,"c":0.42},{"s":2,"t":3.86,"c":0.53},{"s":2,"t":3.9,"c":0.4},{"s":2,"t":3.97,"c":0.49},{"s":2,"t":4.03,"c":0.47},{"s":2,"t":4.1,"c":0.55},{"s":2,"t":4.15,"c":0.44},{"s":2,"t":4.17,"c":0.45},
{"s":3,"t":0,"c":0.01},{"s":3,"t":0.12,"c":-0.02},{"s":3,"t":0.24,"c":0.03},{"s":3,"t":0.36,"c":-0.01},{"s":3,"t":0.48,"c":0.02},{"s":3,"t":0.6,"c":-0.02},{"s":3,"t":0.72,"c":-0.04},{"s":3,"t":0.84,"c":-0.02},{"s":3,"t":0.96,"c":0.01},{"s":3,"t":1.08,"c":0.03},{"s":3,"t":1.2,"c":0.05},{"s":3,"t":1.32,"c":0.08},{"s":3,"t":1.44,"c":0.11},{"s":3,"t":1.56,"c":0.1},{"s":3,"t":1.68,"c":0.13},{"s":3,"t":1.8,"c":0.15},{"s":3,"t":1.92,"c":0.18},{"s":3,"t":2.04,"c":0.22},{"s":3,"t":2.16,"c":0.2},{"s":3,"t":2.28,"c":0.26},{"s":3,"t":2.4,"c":0.24},{"s":3,"t":2.52,"c":0.27},{"s":3,"t":2.64,"c":0.3},{"s":3,"t":2.76,"c":0.28},{"s":3,"t":2.88,"c":0.33},{"s":3,"t":3,"c":0.37},{"s":3,"t":3.12,"c":0.35},{"s":3,"t":3.24,"c":0.41},{"s":3,"t":3.36,"c":0.47},{"s":3,"t":3.48,"c":0.44},{"s":3,"t":3.6,"c":0.45},{"s":3,"t":3.72,"c":0.42},{"s":3,"t":3.84,"c":0.46},{"s":3,"t":3.96,"c":0.49},{"s":3,"t":4.08,"c":0.5},{"s":3,"t":4.17,"c":0.42},
{"s":4,"t":0,"c":-0.03},{"s":4,"t":0.12,"c":0.01},{"s":4,"t":0.24,"c":-0.02},{"s":4,"t":0.36,"c":0.03},{"s":4,"t":0.48,"c":0},{"s":4,"t":0.6,"c":-0.01},{"s":4,"t":0.72,"c":0.02},{"s":4,"t":0.84,"c":0.04},{"s":4,"t":0.96,"c":0.03},{"s":4,"t":1.08,"c":0.07},{"s":4,"t":1.2,"c":0.1},{"s":4,"t":1.32,"c":0.08},{"s":4,"t":1.44,"c":0.2},{"s":4,"t":1.56,"c":0.14},{"s":4,"t":1.68,"c":0.19},{"s":4,"t":1.8,"c":0.2},{"s":4,"t":1.92,"c":0.23},{"s":4,"t":2.04,"c":0.26},{"s":4,"t":2.16,"c":0.24},{"s":4,"t":2.28,"c":0.27},{"s":4,"t":2.4,"c":0.25},{"s":4,"t":2.52,"c":0.31},{"s":4,"t":2.64,"c":0.28},{"s":4,"t":2.76,"c":0.34},{"s":4,"t":2.88,"c":0.33},{"s":4,"t":3,"c":0.35},{"s":4,"t":3.12,"c":0.44},{"s":4,"t":3.24,"c":0.38},{"s":4,"t":3.36,"c":0.4},{"s":4,"t":3.48,"c":0.36},{"s":4,"t":3.6,"c":0.4},{"s":4,"t":3.72,"c":0.33},{"s":4,"t":3.84,"c":0.41},{"s":4,"t":3.96,"c":0.37},{"s":4,"t":4.08,"c":0.45},{"s":4,"t":4.17,"c":0.5},
{"s":5,"t":0,"c":0},{"s":5,"t":0.24,"c":0.02},{"s":5,"t":0.48,"c":-0.02},{"s":5,"t":0.72,"c":-0.01},{"s":5,"t":0.96,"c":0.02},{"s":5,"t":1.2,"c":0.06},{"s":5,"t":1.44,"c":0.05},{"s":5,"t":1.68,"c":0.12},{"s":5,"t":1.92,"c":0.09},{"s":5,"t":2.16,"c":0.14},{"s":5,"t":2.4,"c":0.15},{"s":5,"t":2.64,"c":0.2},{"s":5,"t":2.88,"c":0.23},{"s":5,"t":3.12,"c":0.27},{"s":5,"t":3.36,"c":0.25},{"s":5,"t":3.6,"c":0.26},{"s":5,"t":3.84,"c":0.29},{"s":5,"t":4.08,"c":0.32},{"s":5,"t":4.17,"c":0.35},
{"s":6,"t":0,"c":0.02},{"s":6,"t":0.24,"c":-0.01},{"s":6,"t":0.48,"c":0},{"s":6,"t":0.72,"c":-0.05},{"s":6,"t":0.96,"c":0.03},{"s":6,"t":1.2,"c":0.05},{"s":6,"t":1.44,"c":0.1},{"s":6,"t":1.68,"c":0.12},{"s":6,"t":1.92,"c":0.18},{"s":6,"t":2.16,"c":0.14},{"s":6,"t":2.4,"c":0.17},{"s":6,"t":2.64,"c":0.13},{"s":6,"t":2.88,"c":0.21},{"s":6,"t":3.12,"c":0.16},{"s":6,"t":3.36,"c":0.24},{"s":6,"t":3.6,"c":0.2},{"s":6,"t":3.84,"c":0.24},{"s":6,"t":4.08,"c":0.23},{"s":6,"t":4.17,"c":0.25},
{"s":7,"t":0,"c":0},{"s":7,"t":0.24,"c":-0.03},{"s":7,"t":0.48,"c":0.02},{"s":7,"t":0.72,"c":-0.04},{"s":7,"t":0.96,"c":-0.01},{"s":7,"t":1.2,"c":0.06},{"s":7,"t":1.44,"c":0.06},{"s":7,"t":1.68,"c":0.1},{"s":7,"t":1.92,"c":0.09},{"s":7,"t":2.16,"c":0.13},{"s":7,"t":2.4,"c":0.12},{"s":7,"t":2.64,"c":0.16},{"s":7,"t":2.88,"c":0.15},{"s":7,"t":3.12,"c":0.17},{"s":7,"t":3.36,"c":0.17},{"s":7,"t":3.6,"c":0.21},{"s":7,"t":3.84,"c":0.18},{"s":7,"t":4.08,"c":0.23},{"s":7,"t":4.17,"c":0.22},
{"s":8,"t":0,"c":0},{"s":8,"t":0.12,"c":0.03},{"s":8,"t":0.24,"c":-0.04},{"s":8,"t":0.36,"c":-0.02},{"s":8,"t":0.48,"c":0.09},{"s":8,"t":0.6,"c":-0.03},{"s":8,"t":0.72,"c":-0.05},{"s":8,"t":0.84,"c":-0.08},{"s":8,"t":0.96,"c":0.02},{"s":8,"t":1.08,"c":-0.04},{"s":8,"t":1.2,"c":0.04},{"s":8,"t":1.32,"c":0},{"s":8,"t":1.44,"c":-0.04},{"s":8,"t":1.56,"c":0.06},{"s":8,"t":1.68,"c":0.02},{"s":8,"t":1.8,"c":0.08},{"s":8,"t":1.92,"c":0},{"s":8,"t":2.04,"c":0.1},{"s":8,"t":2.16,"c":-0.03},{"s":8,"t":2.28,"c":0.1},{"s":8,"t":2.4,"c":0.07},{"s":8,"t":2.52,"c":0.12},{"s":8,"t":2.64,"c":0.09},{"s":8,"t":2.76,"c":0.03},{"s":8,"t":2.88,"c":0.13},{"s":8,"t":3,"c":0.12},{"s":8,"t":3.12,"c":0.09},{"s":8,"t":3.24,"c":0.14},{"s":8,"t":3.36,"c":0.12},{"s":8,"t":3.48,"c":0.16},{"s":8,"t":3.6,"c":0.13},{"s":8,"t":3.72,"c":0.17},{"s":8,"t":3.84,"c":0.14},{"s":8,"t":3.96,"c":0.18},{"s":8,"t":4.08,"c":0.22},{"s":8,"t":4.17,"c":0.12},
{"s":9,"t":0,"c":0.01},{"s":9,"t":0.24,"c":-0.02},{"s":9,"t":0.48,"c":0.01},{"s":9,"t":0.72,"c":-0.04},{"s":9,"t":0.96,"c":0.01},{"s":9,"t":1.2,"c":0.02},{"s":9,"t":1.44,"c":0.06},{"s":9,"t":1.68,"c":0.06},{"s":9,"t":1.92,"c":0.09},{"s":9,"t":2.16,"c":0.08},{"s":9,"t":2.4,"c":0.12},{"s":9,"t":2.64,"c":0.11},{"s":9,"t":2.88,"c":0.13},{"s":9,"t":3.12,"c":0.13},{"s":9,"t":3.36,"c":0.16},{"s":9,"t":3.6,"c":0.15},{"s":9,"t":3.84,"c":0.18},{"s":9,"t":4.08,"c":0.17},{"s":9,"t":4.17,"c":0.17},
{"s":10,"t":0,"c":-0.01},{"s":10,"t":0.24,"c":0.02},{"s":10,"t":0.48,"c":-0.03},{"s":10,"t":0.72,"c":-0.03},{"s":10,"t":0.96,"c":-0.03},{"s":10,"t":1.2,"c":0.03},{"s":10,"t":1.44,"c":0.03},{"s":10,"t":1.68,"c":0.07},{"s":10,"t":1.92,"c":0.06},{"s":10,"t":2.16,"c":0.1},{"s":10,"t":2.4,"c":0.09},{"s":10,"t":2.64,"c":0.12},{"s":10,"t":2.88,"c":0.12},{"s":10,"t":3.12,"c":0.14},{"s":10,"t":3.36,"c":0.13},{"s":10,"t":3.6,"c":0.17},{"s":10,"t":3.84,"c":0.15},{"s":10,"t":4.08,"c":0.18},{"s":10,"t":4.17,"c":0.16},
{"s":11,"t":0,"c":-0.02},{"s":11,"t":0.24,"c":0.03},{"s":11,"t":0.48,"c":-0.01},{"s":11,"t":0.72,"c":-0.02},{"s":11,"t":0.96,"c":0.03},{"s":11,"t":1.2,"c":0.02},{"s":11,"t":1.44,"c":0.07},{"s":11,"t":1.68,"c":0.06},{"s":11,"t":1.92,"c":0.1},{"s":11,"t":2.16,"c":0.09},{"s":11,"t":2.4,"c":0.12},{"s":11,"t":2.64,"c":0.12},{"s":11,"t":2.88,"c":0.13},{"s":11,"t":3.12,"c":0.13},{"s":11,"t":3.36,"c":0.16},{"s":11,"t":3.6,"c":0.14},{"s":11,"t":3.84,"c":0.17},{"s":11,"t":4.08,"c":0.15},{"s":11,"t":4.17,"c":0.15},
{"s":12,"t":0,"c":0},{"s":12,"t":0.12,"c":-0.02},{"s":12,"t":0.24,"c":0.01},{"s":12,"t":0.36,"c":-0.03},{"s":12,"t":0.48,"c":-0.05},{"s":12,"t":0.6,"c":0},{"s":12,"t":0.72,"c":-0.06},{"s":12,"t":0.84,"c":-0.03},{"s":12,"t":0.96,"c":-0.06},{"s":12,"t":1.08,"c":-0.02},{"s":12,"t":1.2,"c":0.01},{"s":12,"t":1.32,"c":0.02},{"s":12,"t":1.44,"c":0.04},{"s":12,"t":1.56,"c":0.03},{"s":12,"t":1.68,"c":0.06},{"s":12,"t":1.8,"c":0.05},{"s":12,"t":1.92,"c":0.08},{"s":12,"t":2.04,"c":0.04},{"s":12,"t":2.16,"c":0.07},{"s":12,"t":2.28,"c":0.03},{"s":12,"t":2.4,"c":0.09},{"s":12,"t":2.52,"c":0.1},{"s":12,"t":2.64,"c":0.08},{"s":12,"t":2.76,"c":0.12},{"s":12,"t":2.88,"c":0.1},{"s":12,"t":3,"c":0.13},{"s":12,"t":3.12,"c":0.08},{"s":12,"t":3.24,"c":0.14},{"s":12,"t":3.36,"c":0.12},{"s":12,"t":3.48,"c":0.15},{"s":12,"t":3.6,"c":0.11},{"s":12,"t":3.72,"c":0.07},{"s":12,"t":3.84,"c":0.16},{"s":12,"t":3.96,"c":0.1},{"s":12,"t":4.08,"c":0.18},{"s":12,"t":4.17,"c":0.13}
],
"d":[
{"s":1,"t":0,"c":0},{"s":1,"t":0.2,"c":0.01},{"s":1,"t":0.4,"c":-0.01},{"s":1,"t":0.6,"c":0},{"s":1,"t":0.74,"c":0},{"s":1,"t":0.8,"c":0.3},{"s":1,"t":0.85,"c":0.6},{"s":1,"t":0.9,"c":0.68},{"s":1,"t":0.97,"c":0.7},{"s":1,"t":1.05,"c":0.67},{"s":1,"t":1.17,"c":0.72},{"s":1,"t":1.3,"c":0.72},{"s":1,"t":1.39,"c":0.7},{"s":1,"t":1.49,"c":0.74},{"s":1,"t":1.59,"c":0.73},{"s":1,"t":1.68,"c":0.76},{"s":1,"t":1.78,"c":0.77},{"s":1,"t":1.86,"c":0.78},{"s":1,"t":1.95,"c":0.76},{"s":1,"t":2.05,"c":0.77},{"s":1,"t":2.17,"c":0.77},{"s":1,"t":2.27,"c":0.79},{"s":1,"t":2.36,"c":0.77},{"s":1,"t":2.48,"c":0.8},{"s":1,"t":2.56,"c":0.77},{"s":1,"t":2.69,"c":0.78},{"s":1,"t":2.81,"c":0.78},{"s":1,"t":2.94,"c":0.77},{"s":1,"t":3.07,"c":0.77},{"s":1,"t":3.2,"c":0.76},{"s":1,"t":3.33,"c":0.77},{"s":1,"t":3.46,"c":0.75},{"s":1,"t":3.59,"c":0.76},{"s":1,"t":3.72,"c":0.74},{"s":1,"t":3.81,"c":0.76},{"s":1,"t":3.91,"c":0.74},{"s":1,"t":4.04,"c":0.73},{"s":1,"t":4.17,"c":0.735},
{"s":2,"t":0,"c":0.01},{"s":2,"t":0.2,"c":-0.01},{"s":2,"t":0.4,"c":0},{"s":2,"t":0.6,"c":-0.01},{"s":2,"t":0.66,"c":-0.02},{"s":2,"t":0.72,"c":0.1},{"s":2,"t":0.78,"c":0.5},{"s":2,"t":0.83,"c":0.78},{"s":2,"t":0.86,"c":0.79},{"s":2,"t":0.9,"c":0.76},{"s":2,"t":0.94,"c":0.68},{"s":2,"t":0.99,"c":0.66},{"s":2,"t":1.05,"c":0.71},{"s":2,"t":1.1,"c":0.72},{"s":2,"t":1.26,"c":0.7},{"s":2,"t":1.39,"c":0.69},{"s":2,"t":1.52,"c":0.68},{"s":2,"t":1.65,"c":0.67},{"s":2,"t":1.78,"c":0.65},{"s":2,"t":1.91,"c":0.66},{"s":2,"t":1.96,"c":0.64},{"s":2,"t":2.04,"c":0.66},{"s":2,"t":2.17,"c":0.67},{"s":2,"t":2.3,"c":0.65},{"s":2,"t":2.43,"c":0.63},{"s":2,"t":2.56,"c":0.65},{"s":2,"t":2.72,"c":0.63},{"s":2,"t":2.85,"c":0.68},{"s":2,"t":2.95,"c":0.65},{"s":2,"t":3.07,"c":0.65},{"s":2,"t":3.2,"c":0.64},{"s":2,"t":3.33,"c":0.63},{"s":2,"t":3.46,"c":0.64},{"s":2,"t":3.59,"c":0.65},{"s":2,"t":3.72,"c":0.64},{"s":2,"t":3.85,"c":0.63},{"s":2,"t":3.95,"c":0.65},{"s":2,"t":4.04,"c":0.66},{"s":2,"t":4.17,"c":0.67},
{"s":3,"t":0,"c":0},{"s":3,"t":0.2,"c":-0.01},{"s":3,"t":0.4,"c":0.01},{"s":3,"t":0.6,"c":0},{"s":3,"t":0.76,"c":0},{"s":3,"t":0.82,"c":0.2},{"s":3,"t":0.87,"c":0.5},{"s":3,"t":0.91,"c":0.64},{"s":3,"t":0.99,"c":0.67},{"s":3,"t":1.07,"c":0.68},{"s":3,"t":1.2,"c":0.66},{"s":3,"t":1.35,"c":0.67},{"s":3,"t":1.5,"c":0.66},{"s":3,"t":1.65,"c":0.67},{"s":3,"t":1.8,"c":0.66},{"s":3,"t":1.91,"c":0.66},{"s":3,"t":2.05,"c":0.67},{"s":3,"t":2.17,"c":0.66},{"s":3,"t":2.3,"c":0.65},{"s":3,"t":2.45,"c":0.66},{"s":3,"t":2.56,"c":0.65},{"s":3,"t":2.69,"c":0.65},{"s":3,"t":2.82,"c":0.64},{"s":3,"t":2.95,"c":0.65},{"s":3,"t":3.07,"c":0.64},{"s":3,"t":3.2,"c":0.63},{"s":3,"t":3.33,"c":0.64},{"s":3,"t":3.46,"c":0.63},{"s":3,"t":3.59,"c":0.62},{"s":3,"t":3.72,"c":0.62},{"s":3,"t":3.85,"c":0.61},{"s":3,"t":3.98,"c":0.62},{"s":3,"t":4.1,"c":0.6},{"s":3,"t":4.14,"c":0.6},{"s":3,"t":4.17,"c":0.615},
{"s":4,"t":0,"c":0},{"s":4,"t":0.2,"c":0.01},{"s":4,"t":0.4,"c":0},{"s":4,"t":0.6,"c":-0.01},{"s":4,"t":0.78,"c":0},{"s":4,"t":0.84,"c":0.15},{"s":4,"t":0.9,"c":0.35},{"s":4,"t":0.97,"c":0.49},{"s":4,"t":1.07,"c":0.57},{"s":4,"t":1.2,"c":0.63},{"s":4,"t":1.33,"c":0.66},{"s":4,"t":1.49,"c":0.68},{"s":4,"t":1.59,"c":0.71},{"s":4,"t":1.72,"c":0.7},{"s":4,"t":1.85,"c":0.71},{"s":4,"t":1.95,"c":0.7},{"s":4,"t":2.04,"c":0.73},{"s":4,"t":2.17,"c":0.71},{"s":4,"t":2.3,"c":0.71},{"s":4,"t":2.43,"c":0.7},{"s":4,"t":2.56,"c":0.71},{"s":4,"t":2.69,"c":0.71},{"s":4,"t":2.75,"c":0.7},{"s":4,"t":2.81,"c":0.68},{"s":4,"t":2.91,"c":0.71},{"s":4,"t":3,"c":0.69},{"s":4,"t":3.1,"c":0.68},{"s":4,"t":3.2,"c":0.67},{"s":4,"t":3.3,"c":0.68},{"s":4,"t":3.4,"c":0.67},{"s":4,"t":3.52,"c":0.66},{"s":4,"t":3.65,"c":0.66},{"s":4,"t":3.78,"c":0.64},{"s":4,"t":3.91,"c":0.63},{"s":4,"t":4.04,"c":0.62},{"s":4,"t":4.14,"c":0.6},{"s":4,"t":4.17,"c":0.615},
{"s":5,"t":0,"c":0.01},{"s":5,"t":0.2,"c":0},{"s":5,"t":0.4,"c":0.01},{"s":5,"t":0.6,"c":-0.01},{"s":5,"t":0.74,"c":0},{"s":5,"t":0.8,"c":0.2},{"s":5,"t":0.86,"c":0.42},{"s":5,"t":0.92,"c":0.5},{"s":5,"t":0.97,"c":0.51},{"s":5,"t":1.07,"c":0.53},{"s":5,"t":1.23,"c":0.55},{"s":5,"t":1.39,"c":0.54},{"s":5,"t":1.52,"c":0.53},{"s":5,"t":1.65,"c":0.52},{"s":5,"t":1.78,"c":0.53},{"s":5,"t":1.91,"c":0.52},{"s":5,"t":2.04,"c":0.51},{"s":5,"t":2.17,"c":0.52},{"s":5,"t":2.23,"c":0.53},{"s":5,"t":2.36,"c":0.5},{"s":5,"t":2.5,"c":0.51},{"s":5,"t":2.62,"c":0.5},{"s":5,"t":2.75,"c":0.49},{"s":5,"t":2.88,"c":0.5},{"s":5,"t":3,"c":0.49},{"s":5,"t":3.14,"c":0.48},{"s":5,"t":3.27,"c":0.49},{"s":5,"t":3.4,"c":0.48},{"s":5,"t":3.52,"c":0.48},{"s":5,"t":3.65,"c":0.47},{"s":5,"t":3.78,"c":0.48},{"s":5,"t":3.91,"c":0.47},{"s":5,"t":4.04,"c":0.46},{"s":5,"t":4.17,"c":0.455},
{"s":6,"t":0,"c":0},{"s":6,"t":0.2,"c":-0.01},{"s":6,"t":0.4,"c":0},{"s":6,"t":0.6,"c":0.01},{"s":6,"t":0.72,"c":0},{"s":6,"t":0.78,"c":0.15},{"s":6,"t":0.84,"c":0.38},{"s":6,"t":0.9,"c":0.45},{"s":6,"t":0.94,"c":0.46},{"s":6,"t":1.01,"c":0.44},{"s":6,"t":1.05,"c":0.49},{"s":6,"t":1.2,"c":0.48},{"s":6,"t":1.33,"c":0.49},{"s":6,"t":1.46,"c":0.48},{"s":6,"t":1.6,"c":0.49},{"s":6,"t":1.75,"c":0.51},{"s":6,"t":1.88,"c":0.48},{"s":6,"t":2.04,"c":0.49},{"s":6,"t":2.2,"c":0.47},{"s":6,"t":2.36,"c":0.48},{"s":6,"t":2.5,"c":0.47},{"s":6,"t":2.65,"c":0.48},{"s":6,"t":2.81,"c":0.47},{"s":6,"t":2.95,"c":0.46},{"s":6,"t":3.1,"c":0.47},{"s":6,"t":3.25,"c":0.46},{"s":6,"t":3.4,"c":0.46},{"s":6,"t":3.59,"c":0.46},{"s":6,"t":3.75,"c":0.45},{"s":6,"t":3.9,"c":0.455},{"s":6,"t":4.05,"c":0.44},{"s":6,"t":4.17,"c":0.45},
{"s":7,"t":0,"c":0},{"s":7,"t":0.2,"c":0},{"s":7,"t":0.4,"c":-0.01},{"s":7,"t":0.6,"c":0},{"s":7,"t":0.8,"c":0},{"s":7,"t":0.86,"c":0.12},{"s":7,"t":0.9,"c":0.26},{"s":7,"t":0.94,"c":0.33},{"s":7,"t":1.07,"c":0.35},{"s":7,"t":1.2,"c":0.37},{"s":7,"t":1.33,"c":0.39},{"s":7,"t":1.46,"c":0.41},{"s":7,"t":1.62,"c":0.43},{"s":7,"t":1.78,"c":0.44},{"s":7,"t":1.94,"c":0.44},{"s":7,"t":2.1,"c":0.45},{"s":7,"t":2.3,"c":0.46},{"s":7,"t":2.49,"c":0.47},{"s":7,"t":2.68,"c":0.46},{"s":7,"t":2.88,"c":0.47},{"s":7,"t":3.05,"c":0.465},{"s":7,"t":3.27,"c":0.47},{"s":7,"t":3.45,"c":0.465},{"s":7,"t":3.65,"c":0.47},{"s":7,"t":3.85,"c":0.465},{"s":7,"t":4,"c":0.46},{"s":7,"t":4.17,"c":0.465},
{"s":8,"t":0,"c":0},{"s":8,"t":0.2,"c":0.01},{"s":8,"t":0.4,"c":-0.01},{"s":8,"t":0.6,"c":0},{"s":8,"t":0.66,"c":0},{"s":8,"t":0.72,"c":0.2},{"s":8,"t":0.77,"c":0.45},{"s":8,"t":0.81,"c":0.51},{"s":8,"t":0.86,"c":0.5},{"s":8,"t":0.91,"c":0.49},{"s":8,"t":0.99,"c":0.47},{"s":8,"t":1.07,"c":0.49},{"s":8,"t":1.2,"c":0.47},{"s":8,"t":1.33,"c":0.45},{"s":8,"t":1.46,"c":0.44},{"s":8,"t":1.59,"c":0.45},{"s":8,"t":1.72,"c":0.49},{"s":8,"t":1.78,"c":0.44},{"s":8,"t":1.91,"c":0.44},{"s":8,"t":2.04,"c":0.44},{"s":8,"t":2.23,"c":0.44},{"s":8,"t":2.43,"c":0.43},{"s":8,"t":2.56,"c":0.43},{"s":8,"t":2.62,"c":0.41},{"s":8,"t":2.78,"c":0.41},{"s":8,"t":2.94,"c":0.41},{"s":8,"t":3.07,"c":0.4},{"s":8,"t":3.25,"c":0.4},{"s":8,"t":3.46,"c":0.4},{"s":8,"t":3.59,"c":0.42},{"s":8,"t":3.72,"c":0.4},{"s":8,"t":3.85,"c":0.41},{"s":8,"t":3.91,"c":0.41},{"s":8,"t":4.01,"c":0.39},{"s":8,"t":4.1,"c":0.39},{"s":8,"t":4.17,"c":0.375},
{"s":9,"t":0,"c":0},{"s":9,"t":0.2,"c":0},{"s":9,"t":0.4,"c":0.01},{"s":9,"t":0.6,"c":-0.01},{"s":9,"t":0.7,"c":0},{"s":9,"t":0.76,"c":0.15},{"s":9,"t":0.81,"c":0.33},{"s":9,"t":0.86,"c":0.41},{"s":9,"t":0.9,"c":0.4},{"s":9,"t":0.96,"c":0.38},{"s":9,"t":1.02,"c":0.38},{"s":9,"t":1.1,"c":0.41},{"s":9,"t":1.2,"c":0.42},{"s":9,"t":1.39,"c":0.43},{"s":9,"t":1.59,"c":0.44},{"s":9,"t":1.78,"c":0.43},{"s":9,"t":1.97,"c":0.43},{"s":9,"t":2.17,"c":0.42},{"s":9,"t":2.36,"c":0.41},{"s":9,"t":2.55,"c":0.405},{"s":9,"t":2.75,"c":0.4},{"s":9,"t":2.95,"c":0.395},{"s":9,"t":3.14,"c":0.39},{"s":9,"t":3.33,"c":0.385},{"s":9,"t":3.52,"c":0.38},{"s":9,"t":3.72,"c":0.37},{"s":9,"t":3.91,"c":0.365},{"s":9,"t":4.05,"c":0.355},{"s":9,"t":4.17,"c":0.35},
{"s":10,"t":0,"c":-0.01},{"s":10,"t":0.2,"c":0},{"s":10,"t":0.4,"c":0.01},{"s":10,"t":0.6,"c":0},{"s":10,"t":0.72,"c":0},{"s":10,"t":0.78,"c":0.15},{"s":10,"t":0.84,"c":0.37},{"s":10,"t":0.91,"c":0.42},{"s":10,"t":0.96,"c":0.4},{"s":10,"t":1.01,"c":0.385},{"s":10,"t":1.07,"c":0.38},{"s":10,"t":1.2,"c":0.395},{"s":10,"t":1.33,"c":0.405},{"s":10,"t":1.46,"c":0.39},{"s":10,"t":1.65,"c":0.4},{"s":10,"t":1.85,"c":0.395},{"s":10,"t":2.04,"c":0.4},{"s":10,"t":2.23,"c":0.405},{"s":10,"t":2.43,"c":0.395},{"s":10,"t":2.62,"c":0.385},{"s":10,"t":2.8,"c":0.39},{"s":10,"t":2.98,"c":0.385},{"s":10,"t":3.2,"c":0.375},{"s":10,"t":3.4,"c":0.37},{"s":10,"t":3.6,"c":0.365},{"s":10,"t":3.78,"c":0.365},{"s":10,"t":3.98,"c":0.36},{"s":10,"t":4.17,"c":0.355},
{"s":11,"t":0,"c":0.01},{"s":11,"t":0.2,"c":-0.01},{"s":11,"t":0.4,"c":0},{"s":11,"t":0.6,"c":0.01},{"s":11,"t":0.7,"c":0},{"s":11,"t":0.75,"c":0.15},{"s":11,"t":0.79,"c":0.33},{"s":11,"t":0.83,"c":0.36},{"s":11,"t":0.87,"c":0.33},{"s":11,"t":0.91,"c":0.31},{"s":11,"t":1.01,"c":0.33},{"s":11,"t":1.14,"c":0.34},{"s":11,"t":1.33,"c":0.345},{"s":11,"t":1.52,"c":0.34},{"s":11,"t":1.72,"c":0.345},{"s":11,"t":1.91,"c":0.34},{"s":11,"t":2.1,"c":0.345},{"s":11,"t":2.3,"c":0.34},{"s":11,"t":2.5,"c":0.345},{"s":11,"t":2.69,"c":0.35},{"s":11,"t":2.88,"c":0.34},{"s":11,"t":3.07,"c":0.335},{"s":11,"t":3.27,"c":0.335},{"s":11,"t":3.46,"c":0.33},{"s":11,"t":3.65,"c":0.335},{"s":11,"t":3.85,"c":0.33},{"s":11,"t":4,"c":0.335},{"s":11,"t":4.17,"c":0.345},
{"s":12,"t":0,"c":0},{"s":12,"t":0.2,"c":0.01},{"s":12,"t":0.4,"c":-0.01},{"s":12,"t":0.6,"c":0},{"s":12,"t":0.82,"c":0},{"s":12,"t":0.88,"c":0.12},{"s":12,"t":0.93,"c":0.25},{"s":12,"t":0.97,"c":0.29},{"s":12,"t":1.14,"c":0.3},{"s":12,"t":1.3,"c":0.31},{"s":12,"t":1.46,"c":0.32},{"s":12,"t":1.6,"c":0.32},{"s":12,"t":1.72,"c":0.33},{"s":12,"t":1.9,"c":0.335},{"s":12,"t":2.08,"c":0.335},{"s":12,"t":2.23,"c":0.34},{"s":12,"t":2.45,"c":0.34},{"s":12,"t":2.6,"c":0.345},{"s":12,"t":2.75,"c":0.345},{"s":12,"t":2.95,"c":0.345},{"s":12,"t":3.1,"c":0.35},{"s":12,"t":3.27,"c":0.345},{"s":12,"t":3.45,"c":0.345},{"s":12,"t":3.6,"c":0.34},{"s":12,"t":3.78,"c":0.34},{"s":12,"t":3.95,"c":0.335},{"s":12,"t":4.17,"c":0.335},
{"s":13,"t":0,"c":0.01},{"s":13,"t":0.2,"c":0},{"s":13,"t":0.4,"c":0},{"s":13,"t":0.6,"c":-0.01},{"s":13,"t":0.86,"c":0},{"s":13,"t":0.9,"c":0.1},{"s":13,"t":0.94,"c":0.24},{"s":13,"t":0.98,"c":0.29},{"s":13,"t":1.07,"c":0.31},{"s":13,"t":1.2,"c":0.31},{"s":13,"t":1.39,"c":0.32},{"s":13,"t":1.52,"c":0.32},{"s":13,"t":1.65,"c":0.33},{"s":13,"t":1.85,"c":0.335},{"s":13,"t":2.02,"c":0.335},{"s":13,"t":2.17,"c":0.34},{"s":13,"t":2.4,"c":0.335},{"s":13,"t":2.6,"c":0.335},{"s":13,"t":2.75,"c":0.335},{"s":13,"t":2.95,"c":0.33},{"s":13,"t":3.1,"c":0.33},{"s":13,"t":3.3,"c":0.325},{"s":13,"t":3.5,"c":0.325},{"s":13,"t":3.72,"c":0.32},{"s":13,"t":3.9,"c":0.315},{"s":13,"t":4.07,"c":0.305},{"s":13,"t":4.17,"c":0.325},
{"s":14,"t":0,"c":0},{"s":14,"t":0.2,"c":-0.01},{"s":14,"t":0.4,"c":0},{"s":14,"t":0.6,"c":0.01},{"s":14,"t":0.84,"c":0},{"s":14,"t":0.88,"c":0.1},{"s":14,"t":0.92,"c":0.22},{"s":14,"t":0.96,"c":0.265},{"s":14,"t":1.07,"c":0.255},{"s":14,"t":1.14,"c":0.25},{"s":14,"t":1.23,"c":0.275},{"s":14,"t":1.36,"c":0.287},{"s":14,"t":1.5,"c":0.28},{"s":14,"t":1.6,"c":0.29},{"s":14,"t":1.72,"c":0.287},{"s":14,"t":1.85,"c":0.28},{"s":14,"t":2,"c":0.29},{"s":14,"t":2.1,"c":0.287},{"s":14,"t":2.3,"c":0.282},{"s":14,"t":2.49,"c":0.29},{"s":14,"t":2.65,"c":0.28},{"s":14,"t":2.88,"c":0.29},{"s":14,"t":3.05,"c":0.28},{"s":14,"t":3.27,"c":0.29},{"s":14,"t":3.45,"c":0.28},{"s":14,"t":3.65,"c":0.276},{"s":14,"t":3.8,"c":0.285},{"s":14,"t":3.98,"c":0.271},{"s":14,"t":4.1,"c":0.28},{"s":14,"t":4.17,"c":0.295}
]
}
}
